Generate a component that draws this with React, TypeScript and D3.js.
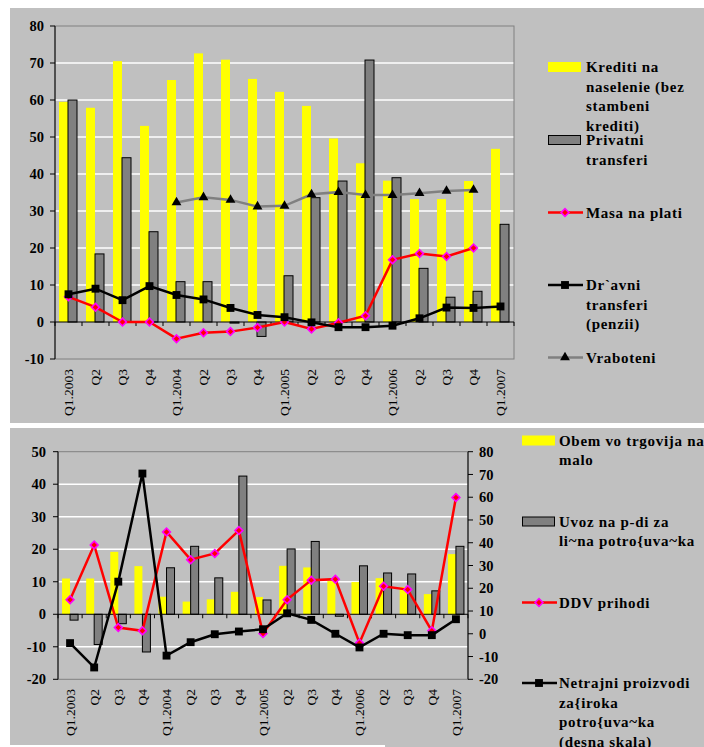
import React from "react";
import * as d3 from "d3";

// ---------- Data ----------
const quarterLabels = ["Q1.2003", "Q2", "Q3", "Q4", "Q1.2004", "Q2", "Q3", "Q4", "Q1.2005", "Q2", "Q3", "Q4", "Q1.2006", "Q2", "Q3", "Q4", "Q1.2007"];

// Top chart
const topTicks = [-10, 0, 10, 20, 30, 40, 50, 60, 70, 80];
const krediti = [59.5, 57.9, 70.5, 53.0, 65.4, 72.6, 70.9, 65.7, 62.2, 58.4, 49.6, 42.9, 38.2, 33.2, 33.2, 38.1, 46.8];
const privatni = [60.0, 18.4, 44.4, 24.4, 10.9, 10.9, -0.3, -3.9, 12.5, 33.6, 38.1, 70.8, 39.0, 14.5, 6.7, 8.3, 26.4];
const masa: (number | null)[] = [6.8, 4.0, 0, 0, -4.5, -2.9, -2.6, -1.5, 0, -1.9, -0.2, 1.7, 16.8, 18.5, 17.7, 20.0, null];
const drzavni = [7.5, 9.0, 5.9, 9.7, 7.3, 6.1, 3.8, 1.9, 1.3, -0.1, -1.4, -1.4, -1.0, 1.0, 3.9, 3.8, 4.2];
const vraboteni: (number | null)[] = [null, null, null, null, 32.3, 33.7, 33.0, 31.2, 31.4, 34.5, 35.1, 34.3, 34.3, 34.8, 35.4, 35.7, null];

// Bottom chart
const botLeftTicks = [-20, -10, 0, 10, 20, 30, 40, 50];
const botRightTicks = [-20, -10, 0, 10, 20, 30, 40, 50, 60, 70, 80];
const obem = [11.0, 11.0, 19.2, 14.8, 5.4, 3.9, 4.6, 6.9, 5.3, 14.9, 14.4, 10.2, 9.9, 11.1, 8.4, 6.2, 18.5];
const uvoz = [-1.8, -9.3, -2.9, -11.6, 14.3, 20.9, 11.2, 42.5, 4.4, 20.1, 22.4, -0.6, 14.9, 12.7, 12.4, 7.2, 20.9];
const ddv = [4.5, 21.3, -4.1, -5.1, 25.3, 16.8, 18.7, 25.8, -5.9, 4.5, 10.5, 10.8, -8.8, 8.6, 7.6, -5.1, 35.9];
const netrajni = [-4.1, -14.8, 22.9, 70.4, -9.6, -3.7, -0.2, 1.0, 2.0, 9.0, 6.1, 0.0, -6.0, 0.0, -0.6, -0.6, 6.4];

const topLegend = [
  { kind: "barY", lines: ["Krediti na", "naselenie (bez", "stambeni", "krediti)"] },
  { kind: "barG", lines: ["Privatni", "transferi"] },
  { kind: "red", lines: ["Masa na plati"] },
  { kind: "black", lines: ["Dr`avni", "transferi", "(penzii)"] },
  { kind: "gray", lines: ["Vraboteni"] },
];
const botLegend = [
  { kind: "barY", lines: ["Obem vo trgovija na", "malo"] },
  { kind: "barG", lines: ["Uvoz na p-di za", "li~na potro{uva~ka"] },
  { kind: "red", lines: ["DDV prihodi"] },
  { kind: "black", lines: ["Netrajni proizvodi", "za{iroka", "potro{uva~ka", "(desna skala)"] },
];

// ---------- Style ----------
const FONT = "Liberation Serif, Times New Roman, DejaVu Serif, serif";
const BG = "#C0C0C0";
const YELLOW = "#FFFF00";
const GRAYBAR = "#808080";
const RED = "#FF0000";
const MAGENTA = "#FF00FF";

const idx = d3.range(quarterLabels.length);

function Marker({ kind, x, y }: { kind: string; x: number; y: number }) {
  if (kind === "red") {
    const p = d3.symbol(d3.symbolSquare, 30)() as string;
    return <path d={p} transform={`translate(${x},${y}) rotate(45)`} fill={RED} stroke={MAGENTA} strokeWidth={1.6} />;
  }
  if (kind === "black") {
    const p = d3.symbol(d3.symbolSquare, 62)() as string;
    return <path d={p} transform={`translate(${x},${y})`} fill="#000" />;
  }
  const p = d3.symbol(d3.symbolTriangle, 42)() as string;
  return <path d={p} transform={`translate(${x},${y})`} fill="#000" />;
}

function Legend({ items, x0, ys, tx }: { items: any[]; x0: number; ys: number[]; tx: number }) {
  return (
    <g>
      {items.map((it, k) => {
        const y = ys[k];
        let sw: any = null;
        if (it.kind === "barY") sw = <rect x={x0} y={y - 5} width={33} height={10} fill={YELLOW} />;
        else if (it.kind === "barG") sw = <rect x={x0 + 0.5} y={y - 4.5} width={32} height={9} fill={GRAYBAR} stroke="#000" strokeWidth={1} />;
        else {
          const col = it.kind === "red" ? RED : it.kind === "black" ? "#000" : GRAYBAR;
          sw = (
            <g>
              <line x1={x0} x2={x0 + 35} y1={y} y2={y} stroke={col} strokeWidth={2.5} />
              <Marker kind={it.kind} x={x0 + 17} y={y} />
            </g>
          );
        }
        return (
          <g key={k}>
            {sw}
            <text x={tx} y={y + 5} style={{ fontFamily: FONT }} fontWeight="bold" fontSize={15} letterSpacing={0.7} fill="#000">
              {it.lines.map((l: string, j: number) => (
                <tspan key={j} x={tx} dy={j === 0 ? 0 : 19.5}>{l}</tspan>
              ))}
            </text>
          </g>
        );
      })}
    </g>
  );
}

function TopChart() {
  const left = 55, right = 514, top = 26, bottom = 359;
  const x = d3.scaleBand<number>().domain(idx).range([left, right]);
  const y = d3.scaleLinear().domain([-10, 80]).range([bottom, top]);
  const sub = d3.scaleBand<string>().domain(["a", "b"]).range([-9.5, 8.5]);
  const cx = (i: number) => (x(i) as number) + x.bandwidth() / 2;
  const mkLine = (scale: any) =>
    d3.line<number | null>().defined((d) => d != null).x((_, i) => cx(i)).y((d) => scale(d as number));

  return (
    <g>
      {topTicks.filter((t) => t > -10 && t < 80 && t !== 0).map((t) => (
        <line key={t} x1={left} x2={right} y1={y(t)} y2={y(t)} stroke="#FFFFFF" strokeWidth={1.5} />
      ))}
      <rect x={left} y={top} width={right - left} height={bottom - top} fill="none" stroke="#808080" strokeWidth={1} />
      {krediti.map((v, i) => (
        <rect key={"k" + i} x={cx(i) + (sub("a") as number)} width={sub.bandwidth()} y={y(Math.max(0, v))} height={Math.abs(y(v) - y(0))} fill={YELLOW} />
      ))}
      {privatni.map((v, i) => (
        <rect key={"p" + i} x={cx(i) + (sub("b") as number)} width={sub.bandwidth()} y={y(Math.max(0, v))} height={Math.abs(y(v) - y(0))} fill={GRAYBAR} stroke="#000" strokeWidth={1} />
      ))}
      <line x1={left} x2={left} y1={top} y2={bottom} stroke="#000" strokeWidth={1} />
      {topTicks.map((t) => (
        <g key={t}>
          <line x1={left - 5} x2={left} y1={y(t)} y2={y(t)} stroke="#000" />
          <text x={left - 11} y={y(t)} dy="0.35em" textAnchor="end" style={{ fontFamily: FONT }} fontWeight="bold" fontSize={14.5}>{t}</text>
        </g>
      ))}
      <line x1={left} x2={right} y1={y(0)} y2={y(0)} stroke="#000" strokeWidth={1} />
      {d3.range(quarterLabels.length + 1).map((i) => (
        <line key={i} x1={left + i * x.step()} x2={left + i * x.step()} y1={y(0)} y2={y(0) + 4} stroke="#000" />
      ))}
      <path d={mkLine(y)(masa) as string} fill="none" stroke={RED} strokeWidth={2.5} />
      {masa.map((v, i) => (v == null ? null : <Marker key={"m" + i} kind="red" x={cx(i)} y={y(v)} />))}
      <path d={mkLine(y)(drzavni) as string} fill="none" stroke="#000" strokeWidth={2.5} />
      {drzavni.map((v, i) => <Marker key={"d" + i} kind="black" x={cx(i)} y={y(v)} />)}
      <path d={mkLine(y)(vraboteni) as string} fill="none" stroke={GRAYBAR} strokeWidth={2.5} />
      {vraboteni.map((v, i) => (v == null ? null : <Marker key={"v" + i} kind="tri" x={cx(i)} y={y(v)} />))}
      {quarterLabels.map((l, i) => (
        <text key={i} transform={`translate(${cx(i)},369) rotate(-90)`} textAnchor="end" dy="0.35em" style={{ fontFamily: FONT }} fontSize={13.5}>{l}</text>
      ))}
    </g>
  );
}

function BottomChart() {
  const left = 58, right = 468, top = 451.7, bottom = 679.3;
  const x = d3.scaleBand<number>().domain(idx).range([left, right]);
  const yL = d3.scaleLinear().domain([-20, 50]).range([bottom, top]);
  const yR = d3.scaleLinear().domain([-20, 80]).range([bottom, top]);
  const sub = d3.scaleBand<string>().domain(["a", "b"]).range([-8, 8]);
  const cx = (i: number) => (x(i) as number) + x.bandwidth() / 2;
  const mkLine = (scale: any) =>
    d3.line<number>().x((_, i) => cx(i)).y((d) => scale(d));

  return (
    <g>
      {botLeftTicks.filter((t) => t > -20 && t < 50 && t !== 0).map((t) => (
        <line key={t} x1={left} x2={right} y1={yL(t)} y2={yL(t)} stroke="#FFFFFF" strokeWidth={1.5} />
      ))}
      <rect x={left} y={top} width={right - left} height={bottom - top} fill="none" stroke="#808080" strokeWidth={1} />
      {obem.map((v, i) => (
        <rect key={"o" + i} x={cx(i) + (sub("a") as number)} width={sub.bandwidth()} y={yL(Math.max(0, v))} height={Math.abs(yL(v) - yL(0))} fill={YELLOW} />
      ))}
      {uvoz.map((v, i) => (
        <rect key={"u" + i} x={cx(i) + (sub("b") as number)} width={sub.bandwidth()} y={yL(Math.max(0, v))} height={Math.abs(yL(v) - yL(0))} fill={GRAYBAR} stroke="#000" strokeWidth={1} />
      ))}
      <line x1={left} x2={left} y1={top} y2={bottom} stroke="#000" />
      {botLeftTicks.map((t) => (
        <g key={t}>
          <line x1={left - 5} x2={left} y1={yL(t)} y2={yL(t)} stroke="#000" />
          <text x={left - 12} y={yL(t)} dy="0.35em" textAnchor="end" style={{ fontFamily: FONT }} fontWeight="bold" fontSize={14.5}>{t}</text>
        </g>
      ))}
      <line x1={right} x2={right} y1={top} y2={bottom} stroke="#000" />
      {botRightTicks.map((t) => (
        <g key={t}>
          <line x1={right} x2={right + 5} y1={yR(t)} y2={yR(t)} stroke="#000" />
          <text x={right + 11} y={yR(t)} dy="0.35em" textAnchor="start" style={{ fontFamily: FONT }} fontWeight="bold" fontSize={14.5}>{t}</text>
        </g>
      ))}
      <line x1={left} x2={right} y1={yL(0)} y2={yL(0)} stroke="#000" />
      {d3.range(quarterLabels.length + 1).map((i) => (
        <line key={i} x1={left + i * x.step()} x2={left + i * x.step()} y1={yL(0)} y2={yL(0) + 4} stroke="#000" />
      ))}
      <path d={mkLine(yL)(ddv) as string} fill="none" stroke={RED} strokeWidth={2.5} />
      {ddv.map((v, i) => <Marker key={"dd" + i} kind="red" x={cx(i)} y={yL(v)} />)}
      <path d={mkLine(yR)(netrajni) as string} fill="none" stroke="#000" strokeWidth={2.5} />
      {netrajni.map((v, i) => <Marker key={"n" + i} kind="black" x={cx(i)} y={yR(v)} />)}
      {quarterLabels.map((l, i) => (
        <text key={i} transform={`translate(${cx(i)},689) rotate(-90)`} textAnchor="end" dy="0.35em" style={{ fontFamily: FONT }} fontSize={13.5}>{l}</text>
      ))}
    </g>
  );
}

export default function App() {
  return (
    <svg width={704} height={747} style={{ position: "absolute", left: 0, top: 0, background: "#fff" }}>
      <rect x={0} y={0} width={704} height={747} fill="#FFFFFF" />
      <rect x={10} y={8} width={694} height={415} fill={BG} />
      <rect x={10} y={428} width={694} height={317} fill={BG} />
      <rect x={385} y={740} width={319} height={7} fill={BG} />
      <TopChart />
      <Legend items={topLegend} x0={548} ys={[67, 140, 212.5, 285, 357.5]} tx={586} />
      <BottomChart />
      <Legend items={botLegend} x0={522} ys={[440.5, 521.5, 602.5, 683]} tx={559} />
    </svg>
  );
}
